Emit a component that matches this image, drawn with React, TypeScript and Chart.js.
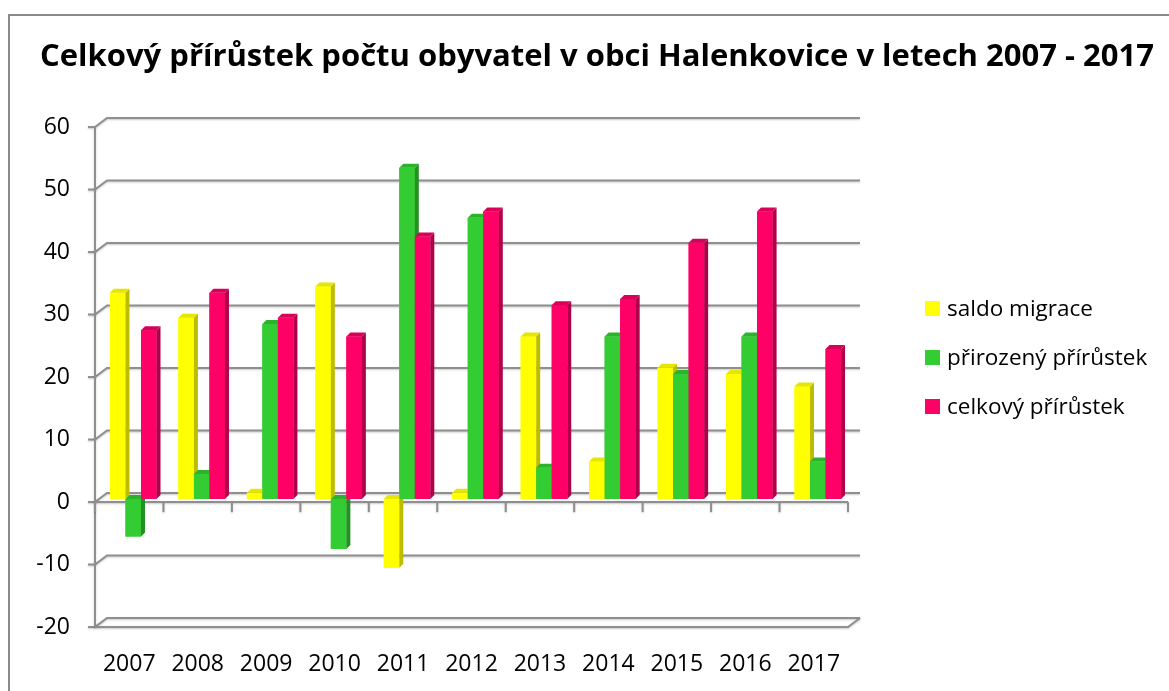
import React, { useEffect, useRef } from "react";
import { Chart, registerables } from "chart.js";

Chart.register(...registerables);

const chartTitle = "Celkový přírůstek počtu obyvatel v obci Halenkovice v letech 2007 - 2017";
const years = ["2007", "2008", "2009", "2010", "2011", "2012", "2013", "2014", "2015", "2016", "2017"];
const seriesNames = ["saldo migrace", "přirozený přírůstek", "celkový přírůstek"];
const saldoMigrace = [33, 29, 1, 34, -11, 1, 26, 6, 21, 20, 18];
const prirozenyPrirustek = [-6, 4, 28, -8, 53, 45, 5, 26, 20, 26, 6];
const celkovyPrirustek = [27, 33, 29, 26, 42, 46, 31, 32, 41, 46, 24];
const yMin = -20;
const yMax = 60;
const yStep = 10;

const FRONT = ["#FFFF00", "#33CC33", "#FF0066"];
const SIDE = ["#BDBD00", "#229122", "#B0004A"];
const TOPC = ["#E6E600", "#2CB32C", "#D9005A"];

const FONT = "'Open Sans', 'Noto Sans', sans-serif";

const depthPlugin = {
  id: "depth3d",
  beforeDatasetsDraw(chart: any) {
    const { ctx, chartArea } = chart;
    const { left, right, top, bottom } = chartArea;
    const ys = chart.scales.y;
    const xs = chart.scales.x;
    const DX = 12;
    const DY = 9;
    ctx.save();
    ctx.strokeStyle = "#8f8f8f";
    ctx.lineWidth = 2;
    ctx.shadowColor = "rgba(0,0,0,0.22)";
    ctx.shadowBlur = 2;
    ctx.shadowOffsetY = 1;
    ys.ticks.forEach((t: any) => {
      const py = ys.getPixelForValue(t.value);
      ctx.beginPath();
      ctx.moveTo(left - 7, py);
      ctx.lineTo(left, py);
      ctx.lineTo(left + DX, py - DY);
      ctx.lineTo(right + DX, py - DY);
      ctx.stroke();
    });
    ctx.beginPath();
    ctx.moveTo(left, top);
    ctx.lineTo(left, bottom);
    ctx.stroke();
    ctx.beginPath();
    ctx.moveTo(left, bottom);
    ctx.lineTo(right, bottom);
    ctx.lineTo(right + DX, bottom - DY);
    ctx.stroke();
    const y0 = ys.getPixelForValue(0);
    ctx.beginPath();
    ctx.moveTo(left, y0);
    ctx.lineTo(right, y0);
    ctx.stroke();
    const n = xs.ticks.length;
    const cw = (right - left) / n;
    ctx.beginPath();
    for (let i = 0; i <= n; i++) {
      const x = left + i * cw;
      ctx.moveTo(x, y0);
      ctx.lineTo(x, y0 + 10);
    }
    ctx.stroke();
    ctx.restore();
    ctx.save();
    ctx.translate(4, -3);
  },
  afterDatasetsDraw(chart: any) {
    const ctx = chart.ctx;
    const dx = 4;
    const dy = 4;
    for (let d = 0; d < chart.data.datasets.length; d++) {
      const meta = chart.getDatasetMeta(d);
      meta.data.forEach((el: any) => {
        const { x, y, base, width } = el.getProps(["x", "y", "base", "width"], true);
        const l = x - width / 2;
        const r = x + width / 2;
        const t = Math.min(y, base);
        const b = Math.max(y, base);
        ctx.fillStyle = FRONT[d];
        ctx.fillRect(l, t, r - l, b - t);
        ctx.fillStyle = SIDE[d];
        ctx.beginPath();
        ctx.moveTo(r, t);
        ctx.lineTo(r + dx, t - dy);
        ctx.lineTo(r + dx, b - dy);
        ctx.lineTo(r, b);
        ctx.closePath();
        ctx.fill();
        ctx.fillStyle = TOPC[d];
        ctx.beginPath();
        ctx.moveTo(l, t);
        ctx.lineTo(l + dx, t - dy);
        ctx.lineTo(r + dx, t - dy);
        ctx.lineTo(r, t);
        ctx.closePath();
        ctx.fill();
      });
    }
    ctx.restore();
  },
};

export default function App() {
  const canvasRef = useRef<HTMLCanvasElement | null>(null);

  useEffect(() => {
    if (!canvasRef.current) return;
    const seriesData = [saldoMigrace, prirozenyPrirustek, celkovyPrirustek];
    const chart = new Chart(canvasRef.current, {
      type: "bar",
      data: {
        labels: years,
        datasets: seriesNames.map((name, i) => ({
          label: name,
          data: seriesData[i],
          backgroundColor: FRONT[i],
          borderWidth: 0,
          categoryPercentage: 0.68,
          barPercentage: 1.0,
        })),
      },
      options: {
        animation: false,
        responsive: false,
        maintainAspectRatio: false,
        events: [],
        layout: { padding: { left: 0, right: 321, top: 127, bottom: 0 } },
        plugins: {
          legend: { display: false },
          title: { display: false },
          tooltip: { enabled: false },
        },
        scales: {
          x: {
            type: "category",
            offset: true,
            grid: { display: false, drawTicks: false },
            border: { display: false },
            ticks: {
              color: "#000",
              font: { family: FONT, size: 23 },
              padding: 24,
              maxRotation: 0,
              autoSkip: false,
            },
            afterFit: (scale: any) => {
              scale.height = 64;
            },
          },
          y: {
            type: "linear",
            min: yMin,
            max: yMax,
            grid: { display: false, drawTicks: false },
            border: { display: false },
            ticks: {
              stepSize: yStep,
              color: "#000",
              font: { family: FONT, size: 23 },
              padding: 25,
            },
            afterFit: (scale: any) => {
              scale.width = 95;
            },
          },
        },
      },
      plugins: [depthPlugin],
    });
    return () => chart.destroy();
  }, []);

  return (
    <div
      style={{
        position: "fixed",
        left: 0,
        top: 0,
        width: 1169,
        height: 691,
        overflow: "hidden",
        background: "#fff",
        fontFamily: FONT,
      }}
    >
      <div
        style={{
          position: "absolute",
          left: 8,
          top: 14,
          width: 1300,
          height: 800,
          border: "2px solid #8a8a8a",
        }}
      />
      <canvas
        ref={canvasRef}
        width={1169}
        height={691}
        style={{ position: "absolute", left: 0, top: 0, width: 1169, height: 691 }}
      />
      <div
        style={{
          position: "absolute",
          left: 40,
          top: 38,
          fontSize: 31,
          lineHeight: "32px",
          fontWeight: 700,
          whiteSpace: "nowrap",
          color: "#000",
        }}
      >
        {chartTitle}
      </div>
      {seriesNames.map((name, i) => (
        <div
          key={name}
          style={{
            position: "absolute",
            left: 925,
            top: 296 + i * 49,
            height: 24,
            display: "flex",
            alignItems: "center",
            whiteSpace: "nowrap",
          }}
        >
          <span style={{ display: "inline-block", width: 15, height: 15, background: FRONT[i], marginRight: 7 }} />
          <span style={{ fontSize: 22.5, lineHeight: "24px", color: "#000" }}>{name}</span>
        </div>
      ))}
    </div>
  );
}
